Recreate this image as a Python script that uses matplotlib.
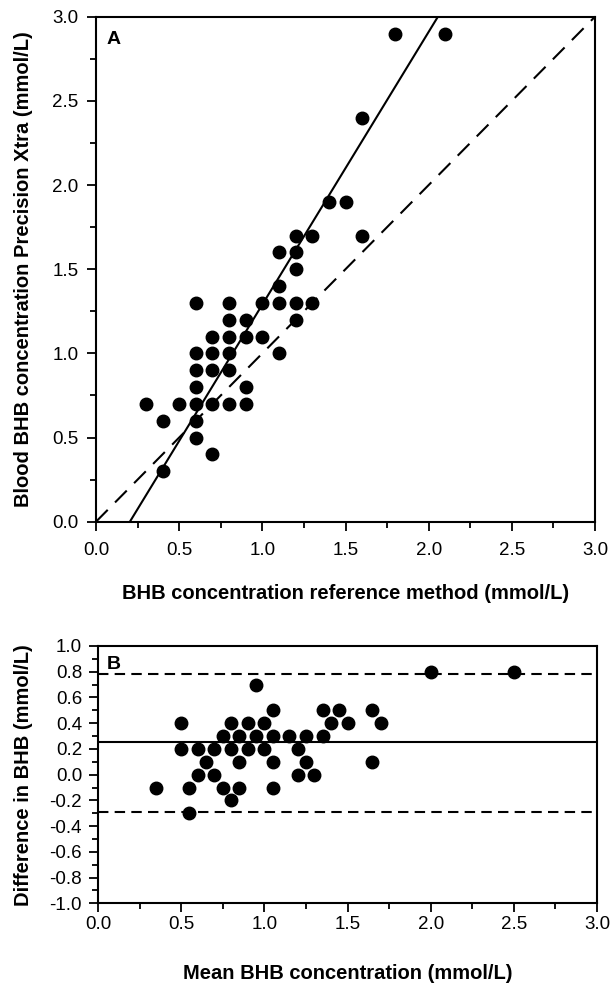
import numpy as np
import matplotlib
matplotlib.use("Agg")
import matplotlib.pyplot as plt
import matplotlib as mpl

plt.rcParams['font.family'] = ['Liberation Sans', 'DejaVu Sans']
plt.rcParams['font.size'] = 13.5
plt.rcParams['axes.linewidth'] = 1.5

# panel A: reference method vs Precision Xtra (mmol/L)
ref_x = [0.3, 0.4, 0.4, 0.5,
         0.6, 0.6, 0.6, 0.6, 0.6, 0.6, 0.6,
         0.7, 0.7, 0.7, 0.7, 0.7,
         0.8, 0.8, 0.8, 0.8, 0.8, 0.8,
         0.9, 0.9, 0.9, 0.9,
         1.0, 1.0,
         1.1, 1.1, 1.1, 1.1,
         1.2, 1.2, 1.2, 1.2, 1.2,
         1.3, 1.3,
         1.4, 1.5,
         1.6, 1.6,
         1.8, 2.1]
xtra_y = [0.7, 0.6, 0.3, 0.7,
          1.3, 1.0, 0.9, 0.8, 0.7, 0.6, 0.5,
          1.1, 1.0, 0.9, 0.7, 0.4,
          1.3, 1.2, 1.1, 1.0, 0.9, 0.7,
          1.2, 1.1, 0.8, 0.7,
          1.3, 1.1,
          1.6, 1.4, 1.3, 1.0,
          1.7, 1.6, 1.5, 1.3, 1.2,
          1.7, 1.3,
          1.9, 1.9,
          2.4, 1.7,
          2.9, 2.9]
reg_slope = 1.62
reg_intercept = -0.33

# panel B: Bland-Altman
mean_x = [0.35, 0.50, 0.50, 0.55, 0.55, 0.60, 0.60, 0.65, 0.70, 0.70,
          0.75, 0.75, 0.80, 0.80, 0.80, 0.85, 0.85, 0.85, 0.90, 0.90,
          0.95, 0.95, 1.00, 1.00, 1.05, 1.05, 1.05, 1.05, 1.15, 1.20,
          1.20, 1.25, 1.25, 1.30, 1.35, 1.35, 1.40, 1.45, 1.50, 1.65,
          1.65, 1.70, 2.00, 2.50]
diff_y = [-0.1, 0.4, 0.2, -0.1, -0.3, 0.2, 0.0, 0.1, 0.2, 0.0,
          0.3, -0.1, 0.4, 0.2, -0.2, 0.3, 0.1, -0.1, 0.4, 0.2,
          0.7, 0.3, 0.4, 0.2, 0.5, 0.3, 0.1, -0.1, 0.3, 0.2,
          0.0, 0.3, 0.1, 0.0, 0.5, 0.3, 0.4, 0.5, 0.4, 0.5,
          0.1, 0.4, 0.8, 0.8]
bias = 0.25
loa_upper = 0.78
loa_lower = -0.29


def ax_format(ax, xmaj, xmin, ymaj, ymin, xpad, ypad):
    ax.xaxis.set_tick_params(which='major', size=6.5, width=1.3, direction='out', pad=xpad)
    ax.xaxis.set_tick_params(which='minor', size=4.5, width=1.3, direction='out')
    ax.yaxis.set_tick_params(which='major', size=6.5, width=1.3, direction='out', pad=ypad)
    ax.yaxis.set_tick_params(which='minor', size=4.5, width=1.3, direction='out')
    ax.xaxis.set_major_locator(mpl.ticker.MultipleLocator(xmaj))
    ax.xaxis.set_minor_locator(mpl.ticker.MultipleLocator(xmin))
    ax.yaxis.set_major_locator(mpl.ticker.MultipleLocator(ymaj))
    ax.yaxis.set_minor_locator(mpl.ticker.MultipleLocator(ymin))
    ax.xaxis.set_major_formatter(mpl.ticker.FormatStrFormatter('%.1f'))
    ax.yaxis.set_major_formatter(mpl.ticker.FormatStrFormatter('%.1f'))


fig = plt.figure(figsize=(6.11, 9.86), dpi=100)

ax1 = fig.add_axes([96/611, 1-521.7/986, 499/611, 505/986])
ax_format(ax1, 0.5, 0.25, 0.5, 0.25, 8, 6)
ax1.set_xlim(0, 3)
ax1.set_ylim(0, 3)
line_x = np.array([0, 3])
ax1.plot(line_x, line_x, color='black', lw=1.5, linestyle=(0, (8, 5)))
ax1.plot(line_x, reg_slope*line_x + reg_intercept, color='black', lw=1.5)
ax1.plot(ref_x, xtra_y, 'o', color='black', ms=9, zorder=3)
ax1.set_xlabel('BHB concentration reference method (mmol/L)', fontweight='bold', fontsize=14.5)
ax1.set_ylabel('Blood BHB concentration Precision Xtra (mmol/L)', fontweight='bold', fontsize=14.5)
ax1.xaxis.set_label_coords(0.5, -0.123)
ax1.yaxis.set_label_coords(-0.126, 0.5)
ax1.text(0.022, 0.972, 'A', transform=ax1.transAxes, fontweight='bold', fontsize=14, va='top', ha='left')

ax2 = fig.add_axes([98/611, 1-903.3/986, 499/611, 257.3/986])
ax_format(ax2, 0.5, 0.25, 0.2, 0.1, 3, 5)
ax2.set_xlim(0, 3)
ax2.set_ylim(-1, 1)
ax2.axhline(loa_upper, color='black', lw=1.5, linestyle=(0, (5, 3)))
ax2.axhline(bias, color='black', lw=1.5)
ax2.axhline(loa_lower, color='black', lw=1.5, linestyle=(0, (5, 3)))
ax2.plot(mean_x, diff_y, 'o', color='black', ms=9, zorder=3)
ax2.set_xlabel('Mean BHB concentration (mmol/L)', fontweight='bold', fontsize=14.5)
ax2.set_ylabel('Difference in BHB (mmol/L)', fontweight='bold', fontsize=14.5)
ax2.xaxis.set_label_coords(0.5, -0.235)
ax2.yaxis.set_label_coords(-0.130, 0.5)
ax2.text(0.018, 0.96, 'B', transform=ax2.transAxes, fontweight='bold', fontsize=14, va='top', ha='left')

plt.savefig('out.png', dpi=100)
